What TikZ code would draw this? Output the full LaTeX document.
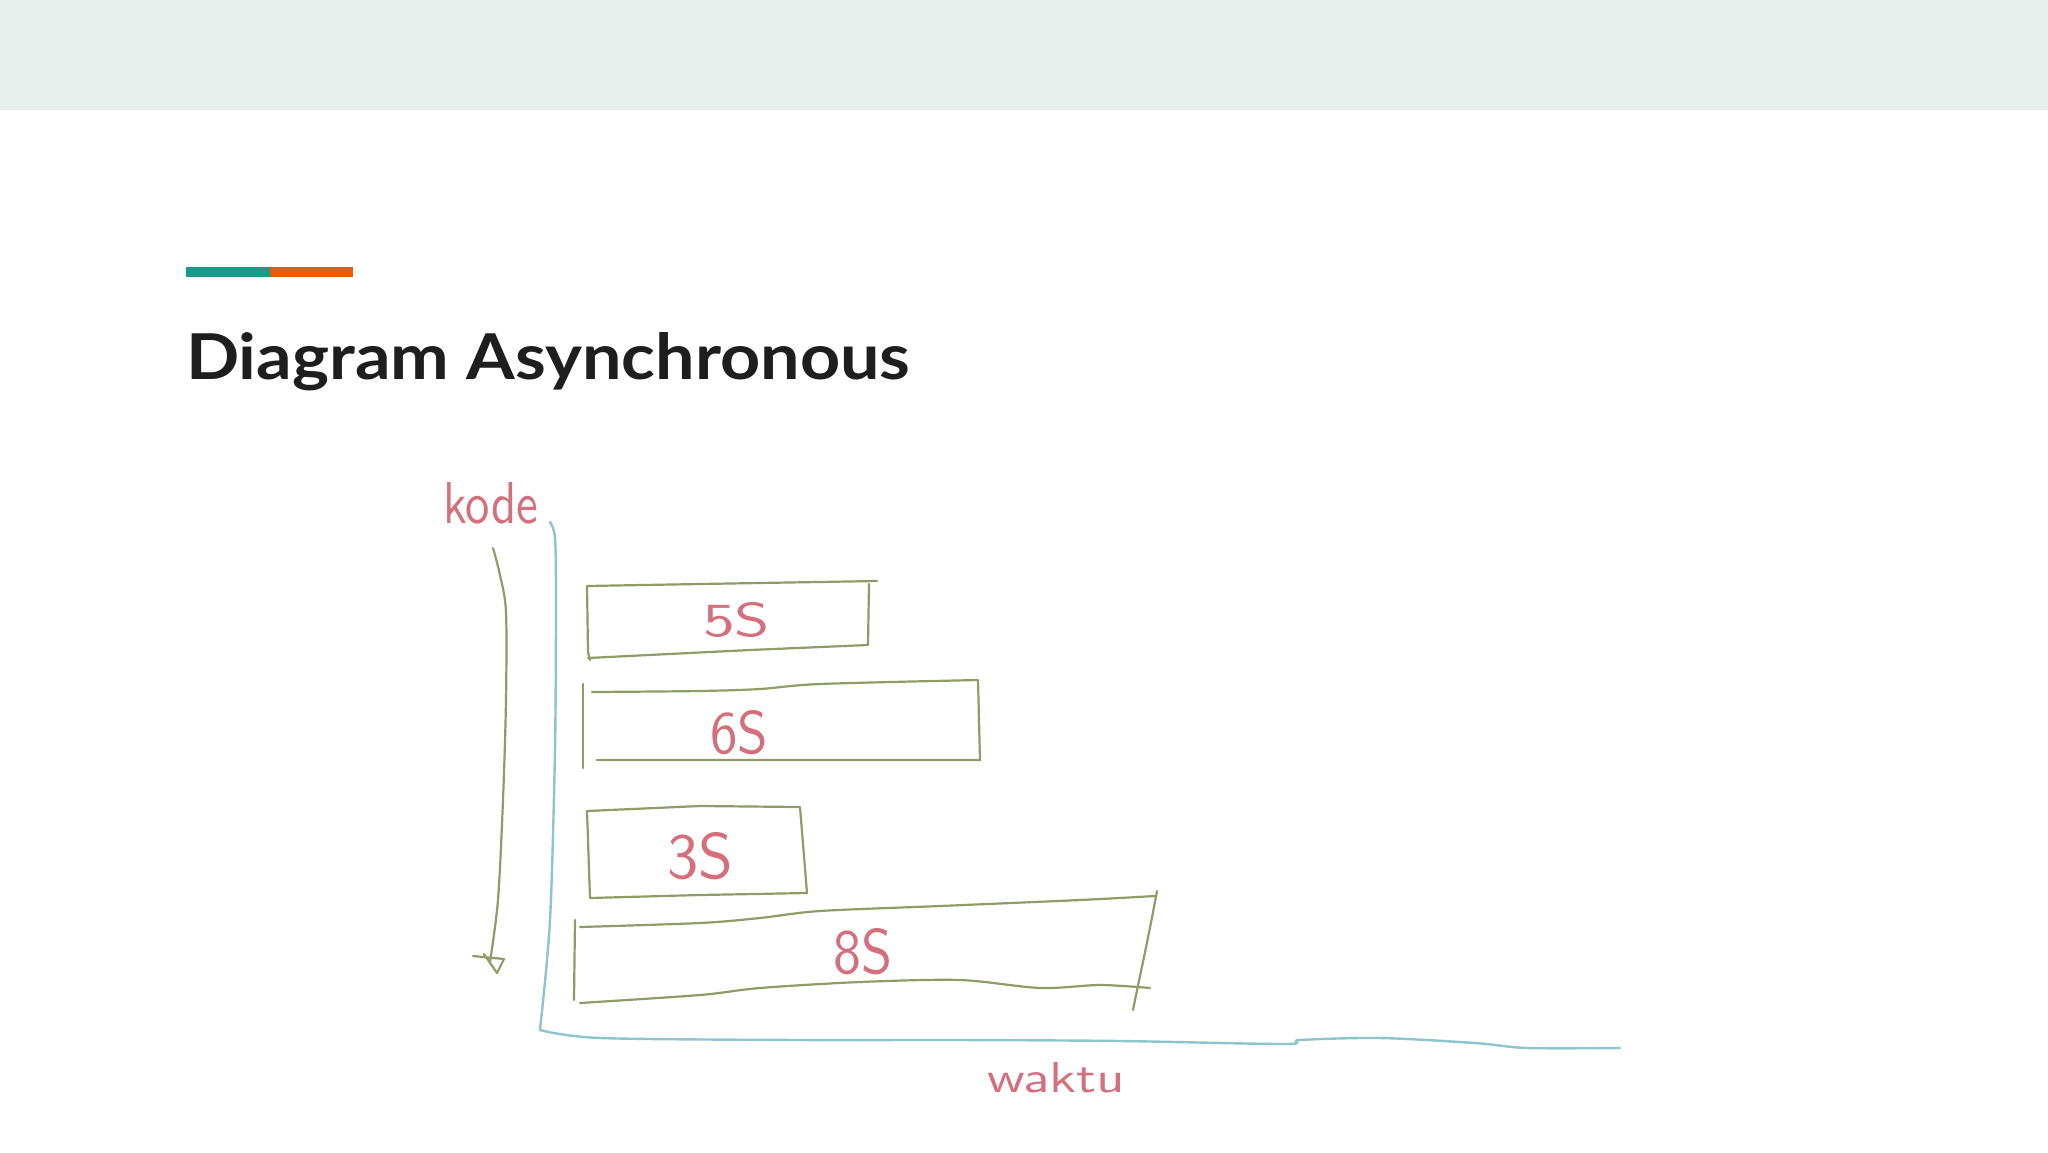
\documentclass[tikz,border=0pt]{standalone}
\usepackage{fontspec}
\setmainfont{Lato}
\newfontfamily\titlefont{Lato}
\newcommand\handfont{\sffamily}
\definecolor{barbg}{HTML}{E8EEEB}
\definecolor{accentteal}{HTML}{1A9A8A}
\definecolor{accentorange}{HTML}{E65C0A}
\definecolor{titleblack}{HTML}{1E1E1E}
\definecolor{penred}{HTML}{D46F7C}
\definecolor{pengreen}{HTML}{8E9C68}
\definecolor{penblue}{HTML}{8EC4CC}
\tikzset{
  pen/.style={line width=2.2pt, line cap=round, line join=round, color=pengreen},
  axispen/.style={line width=2.4pt, line cap=round, line join=round, color=penblue},
  handlabel/.style={inner sep=0pt, anchor=base west, text=penred, font=\handfont},
}
\begin{document}
\begin{tikzpicture}[x=1pt,y=-1pt]
\useasboundingbox (0,0) rectangle (2048,1152);
\fill[white] (0,0) rectangle (2048,1152);
% header band
\fill[barbg] (0,0) rectangle (2048,110);
% accent bar
\fill[accentteal] (186,267) rectangle (270,277);
\fill[accentorange] (270,267) rectangle (353,277);
% title
\node[inner sep=0pt, anchor=base west, text=titleblack] (title) at (186,379)
  {\resizebox{724pt}{47pt}{\titlefont\bfseries Diagram Asynchronous}};

% axis labels
\node[handlabel] (kode) at (443,523) {\resizebox{95pt}{41pt}{kode}};
\node[handlabel] (waktu) at (987,1092) {\resizebox{138pt}{30pt}{waktu}};

% blue axes
\draw[axispen] plot[smooth] coordinates {(550,522) (555,538) (556,600) (555,750) (550,920) (540,1030)}
  -- plot[smooth] coordinates {(540,1030) (600,1038) (800,1040) (960,1040) (1120,1041) (1285,1044) (1300,1040) (1380,1038) (1475,1043) (1527,1048) (1620,1048)};

% green arrow (kode direction)
\draw[pen] plot[smooth] coordinates {(493,548) (500,575) (506,612) (506,700) (503,800) (498,900) (490,962)};
\draw[pen] (473,956) -- (504,959) -- (497,973) -- (484,954);

% box 5S
\draw[pen] (877,581) -- (700,584) -- (587,586) -- (588,652) -- (590,660);
\draw[pen] (869,584) -- (868,645) -- (750,650) -- (588,658);
\node[handlabel] (t5) at (703,636) {\resizebox{67pt}{34pt}{5S}};

% box 6S
\draw[pen] (583,684) -- (583,768);
\draw[pen] plot[smooth] coordinates {(592,692) (700,691) (760,689) (820,684) (978,680)} -- (980,760) -- (597,760);
\node[handlabel] (t6) at (710,753) {\resizebox{58pt}{43pt}{6S}};

% box 3S
\draw[pen] (587,811) -- (700,806) -- (800,807) -- (807,893) -- (700,895) -- (590,898) -- cycle;
\node[handlabel] (t3) at (667,878) {\resizebox{66pt}{46pt}{3S}};

% box 8S
\draw[pen] (575,920) -- (574,1000);
\draw[pen] plot[smooth] coordinates {(580,927) (700,923) (760,918) (820,911) (940,906) (1080,900) (1155,896)};
\draw[pen] (1157,891) .. controls (1148,940) and (1140,975) .. (1133,1010);
\draw[pen] plot[smooth] coordinates {(580,1003) (700,995) (760,988) (860,982) (960,980) (1040,988) (1100,985) (1150,988)};
\node[handlabel] (t8) at (833,973) {\resizebox{59pt}{45pt}{8S}};
\end{tikzpicture}
\end{document}
